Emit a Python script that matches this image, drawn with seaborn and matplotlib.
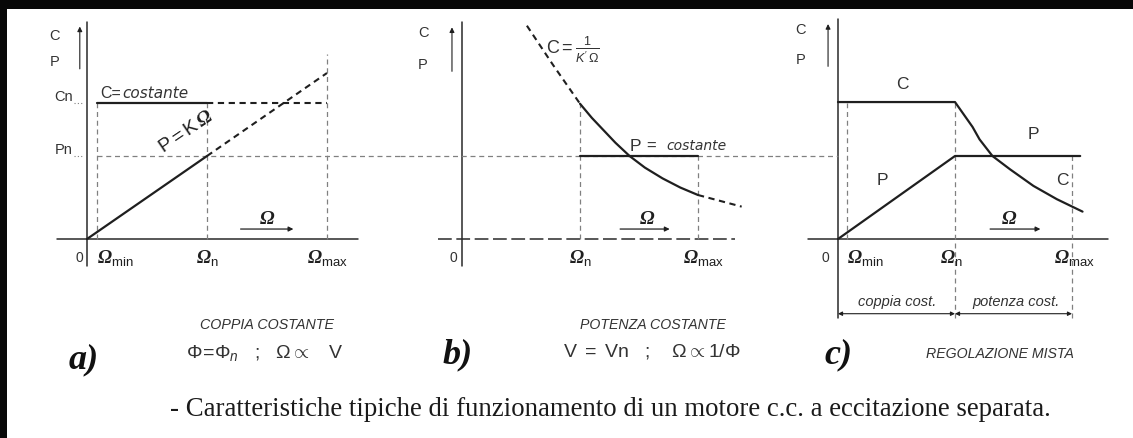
import numpy as np
import matplotlib
matplotlib.use("Agg")
import matplotlib.pyplot as plt
from matplotlib.patches import Rectangle
import seaborn as sns

# ---------------- per-unit operating values (Omega_n = 1, P_n = 1) ----------------
omega_min = 0.08
omega_n = 1.0
omega_max = 2.0
torque_n = 1.64
power_n = 1.0

# a) constant torque, P = K * Omega
a_omega = [0.0, 1.0, 2.0]
a_power = [0.0, 1.0, 2.0]

# b) constant power, C = 1 / (K' Omega)
b_omega = [0.55, 0.77, 1.0, 1.1, 1.2, 1.3, 1.42, 1.55, 1.7, 1.85, 2.0, 2.37]
b_torque = [2.57, 2.10, 1.63, 1.46, 1.31, 1.16, 1.0, 0.86, 0.73, 0.62, 0.53, 0.39]

# c) mixed regulation
c_omega_torque = [0.0, 1.0, 1.07, 1.15, 1.21, 1.32, 1.47, 1.67, 1.87, 2.09]
c_torque = [1.65, 1.65, 1.51, 1.35, 1.20, 1.0, 0.84, 0.64, 0.48, 0.33]
c_omega_power = [0.0, 1.0, 2.07]
c_power = [0.0, 1.0, 1.0]

# ---------------- style ----------------
sns.set_theme(style="white")
plt.rcParams["font.family"] = ["Liberation Sans", "DejaVu Sans"]
plt.rcParams["mathtext.fontset"] = "custom"
plt.rcParams["mathtext.rm"] = "Liberation Sans"
plt.rcParams["mathtext.it"] = "Liberation Sans:italic"
plt.rcParams["mathtext.bf"] = "Liberation Serif:italic:bold"
plt.rcParams["mathtext.sf"] = "Liberation Sans"

INK = "#1f1f1f"
TXT = "#333333"
GREY = "#808080"
SOLID_LW = 1.6
DASH_DARK = dict(color=INK, lw=1.5, ls=(0, (3.0, 2.2)), dash_capstyle="butt")
REF = dict(color=GREY, lw=0.9, ls=(0, (4.0, 3.0)))
AXIS = dict(color="#2a2a2a", lw=1.1)
WIDE_IT = dict(family=["DejaVu Sans"], style="italic", color=TXT)

W, H, DPI = 1133, 439, 100
fig = plt.figure(figsize=(W / DPI, H / DPI), dpi=DPI)
fig.patch.set_facecolor("white")

ORIGIN_Y, SY = 240, 83
TOP, BOTTOM = 12, 335


def panel(x0, x1, ox, sx):
    ax = fig.add_axes([x0 / W, 1 - BOTTOM / H, (x1 - x0) / W, (BOTTOM - TOP) / H])
    ax.set_xlim((x0 - ox) / sx, (x1 - ox) / sx)
    ax.set_ylim((ORIGIN_Y - BOTTOM) / SY, (ORIGIN_Y - TOP) / SY)
    ax.axis("off")
    return ax


def omega_label(ax, x, sub, ha="center", y=-0.22):
    if sub == "0":
        ax.text(x, y, "0", ha="center", va="center", fontsize=10, color=TXT)
    else:
        ax.text(x, y, r"$\mathbf{\Omega}_{\mathsf{%s}}$" % sub, ha=ha, va="center",
                fontsize=13.5, color=INK)


def cp_arrow(ax, x, y_lo, y_hi, xl, yc, yp):
    ax.annotate("", xy=(x, y_hi), xytext=(x, y_lo),
                arrowprops=dict(arrowstyle="-|>", color=INK, lw=0.8,
                                mutation_scale=7, shrinkA=0, shrinkB=0))
    ax.text(xl, yc, "C", ha="center", va="center", fontsize=10.5, color=TXT)
    ax.text(xl, yp, "P", ha="center", va="center", fontsize=10.5, color=TXT)


def omega_arrow(ax, x0, x1, xt):
    ax.annotate("", xy=(x1, 0.12), xytext=(x0, 0.12),
                arrowprops=dict(arrowstyle="-|>", color=INK, lw=0.9,
                                mutation_scale=7, shrinkA=0, shrinkB=0))
    ax.text(xt, 0.25, r"$\mathbf{\Omega}$", ha="center", va="center", fontsize=14, color=INK)


# ================= a) COPPIA COSTANTE =================
ax = panel(30, 400, 87, 120)
ax.plot([0, 0], [-0.33, 2.62], **AXIS)
ax.plot([-0.25, 2.26], [0, 0], **AXIS)
cp_arrow(ax, -0.06, 2.05, 2.56, -0.27, 2.46, 2.14)
ax.text(-0.12, torque_n, "Cn", ha="right", va="bottom", fontsize=10.5, color=TXT)
ax.text(-0.12, power_n, "Pn", ha="right", va="bottom", fontsize=10.5, color=TXT)
ax.plot([-0.11, -0.03], [torque_n, torque_n], color=GREY, lw=0.8, ls=(0, (1, 2)))
ax.plot([-0.11, -0.03], [power_n, power_n], color=GREY, lw=0.8, ls=(0, (1, 2)))

# reference dashes
ax.plot([omega_min, omega_min], [0, torque_n], **REF)
ax.plot([omega_n, omega_n], [0, torque_n], **REF)
ax.plot([omega_max, omega_max], [0, 2.23], **REF)
ax.plot([omega_min, ax.get_xlim()[1]], [power_n, power_n], **REF)

# C = costante
sns.lineplot(x=[omega_min, omega_n], y=[torque_n, torque_n], ax=ax, color=INK, lw=SOLID_LW)
ax.plot([omega_n, omega_max], [torque_n, torque_n], **DASH_DARK)
# P = K Omega
sns.lineplot(x=a_omega[:2], y=a_power[:2], ax=ax, color=INK, lw=SOLID_LW)
ax.plot(a_omega[1:], a_power[1:], **DASH_DARK)

ax.text(0.11, 1.77, "C=", ha="left", va="center", fontsize=11.5, color=TXT)
ax.text(0.29, 1.76, "costante", ha="left", va="center", fontsize=11, **WIDE_IT)
ax.text(0.83, 1.30, r"P$=$K$\,\mathbf{\Omega}$", ha="center", va="center", rotation=34,
        rotation_mode="anchor", fontsize=14, color=INK)
omega_arrow(ax, 1.28, 1.72, 1.50)
omega_label(ax, -0.06, "0")
omega_label(ax, omega_min, "min", ha="left")
omega_label(ax, omega_n, "n")
omega_label(ax, omega_max, "max")

# ================= b) POTENZA COSTANTE =================
ax = panel(400, 775, 462, 118)
ax.plot([0, 0], [-0.33, 2.62], **AXIS)
ax.plot([-0.2, 2.31], [0, 0], color="#2a2a2a", lw=1.1, ls=(0, (9, 3)))
cp_arrow(ax, -0.085, 2.02, 2.55, -0.33, 2.49, 2.11)

ax.plot(list(ax.get_xlim()), [power_n, power_n], **REF)
b_om = np.array(b_omega)
b_c = np.array(b_torque)
ax.plot([omega_n, omega_n], [0, b_c[b_om == omega_n][0]], **REF)
ax.plot([omega_max, omega_max], [0, power_n], **REF)

sns.lineplot(x=[omega_n, omega_max], y=[power_n, power_n], ax=ax, color=INK, lw=SOLID_LW)
mid = (b_om >= omega_n) & (b_om <= omega_max)
sns.lineplot(x=b_om[mid], y=b_c[mid], ax=ax, color=INK, lw=SOLID_LW, sort=False)
ax.plot(b_om[b_om <= omega_n], b_c[b_om <= omega_n], **DASH_DARK)
ax.plot(b_om[b_om >= omega_max], b_c[b_om >= omega_max], **DASH_DARK)

ax.text(0.71, 2.29, r"C$=\frac{1}{K'\,\Omega}$", ha="left", va="center", fontsize=13, color=TXT)
ax.text(1.42, 1.13, "P", ha="left", va="center", fontsize=12.5, color=TXT)
ax.text(1.56, 1.13, "=", ha="left", va="center", fontsize=12, color=TXT)
ax.text(1.73, 1.13, "costante", ha="left", va="center", fontsize=10, **WIDE_IT)
omega_arrow(ax, 1.34, 1.76, 1.57)
omega_label(ax, -0.07, "0")
omega_label(ax, omega_n, "n")
omega_label(ax, omega_max + 0.05, "max")

# ================= c) REGOLAZIONE MISTA =================
ax = panel(775, 1125, 838, 117)
ax.plot([0, 0], [-0.95, 2.65], **AXIS)
ax.plot([-0.26, 2.31], [0, 0], **AXIS)
cp_arrow(ax, -0.085, 2.08, 2.59, -0.32, 2.53, 2.17)

ax.plot([ax.get_xlim()[0], 0], [power_n, power_n], **REF)
ax.plot([omega_min, omega_min], [0, torque_n], **REF)
ax.plot([omega_n, omega_n], [-0.95, torque_n], **REF)
ax.plot([omega_max, omega_max], [-0.95, power_n], **REF)

sns.lineplot(x=c_omega_torque, y=c_torque, ax=ax, color=INK, lw=SOLID_LW, sort=False)
sns.lineplot(x=c_omega_power, y=c_power, ax=ax, color=INK, lw=SOLID_LW, sort=False)

ax.text(0.55, 1.87, "C", ha="center", va="center", fontsize=12.5, color=TXT)
ax.text(1.67, 1.27, "P", ha="center", va="center", fontsize=12.5, color=TXT)
ax.text(0.38, 0.72, "P", ha="center", va="center", fontsize=12.5, color=TXT)
ax.text(1.92, 0.72, "C", ha="center", va="center", fontsize=12.5, color=TXT)
omega_arrow(ax, 1.30, 1.73, 1.46)
omega_label(ax, -0.11, "0")
omega_label(ax, omega_min, "min", ha="left")
omega_label(ax, omega_n - 0.03, "n")
omega_label(ax, omega_max + 0.02, "max")

# bracket: coppia cost. / potenza cost.
for xa, xb in [(0.0, omega_n), (omega_n, omega_max)]:
    ax.annotate("", xy=(xb, -0.90), xytext=(xa, -0.90),
                arrowprops=dict(arrowstyle="<|-|>", color=INK, lw=0.8,
                                mutation_scale=6, shrinkA=0, shrinkB=0))
ax.text(0.51, -0.75, "coppia cost.", ha="center", va="center", fontsize=10.5,
        style="italic", color=TXT)
ax.text(1.52, -0.75, "potenza cost.", ha="center", va="center", fontsize=10.5,
        style="italic", color=TXT)

# ---------------- captions ----------------
def ftext(x, y, s, **kw):
    fig.text(x / W, 1 - y / H, s, **kw)


serif_bi = dict(family="Liberation Serif", weight="bold", style="italic", color="#111111")
ftext(84, 360, "a)", ha="center", va="center", fontsize=26, **serif_bi)
ftext(458, 355, "b)", ha="center", va="center", fontsize=26, **serif_bi)
ftext(838, 355, "c)", ha="center", va="center", fontsize=26, **serif_bi)

ftext(267, 325, "COPPIA COSTANTE", ha="center", va="center", fontsize=10.3,
      style="italic", color=TXT)
ftext(265, 353, r"$\Phi\!=\!\Phi_{n}$   ;   $\Omega \propto$   V", ha="center", va="center",
      fontsize=14, color=TXT)
ftext(653, 325, "POTENZA COSTANTE", ha="center", va="center", fontsize=10.2,
      style="italic", color=TXT)
ftext(652, 352, r"V $=$ Vn   ;    $\Omega \propto 1/\Phi$", ha="center", va="center",
      fontsize=14, color=TXT)
ftext(1000, 354, "REGOLAZIONE MISTA", ha="center", va="center", fontsize=10.2,
      style="italic", color=TXT)

ftext(610, 410, "- Caratteristiche tipiche di funzionamento di un motore c.c. a eccitazione separata.",
      ha="center", va="center", fontsize=19.3, family=["Liberation Serif", "DejaVu Serif"],
      color="#1a1a1a")

# scanned page edge
fig.patches.append(Rectangle((0, 1 - 10 / H), 1, 10 / H, transform=fig.transFigure,
                             facecolor="#080808", edgecolor="none", zorder=10))
fig.patches.append(Rectangle((0, 0), 7 / W, 1, transform=fig.transFigure,
                             facecolor="#080808", edgecolor="none", zorder=10))

fig.savefig("out.png", dpi=DPI, facecolor="white")
